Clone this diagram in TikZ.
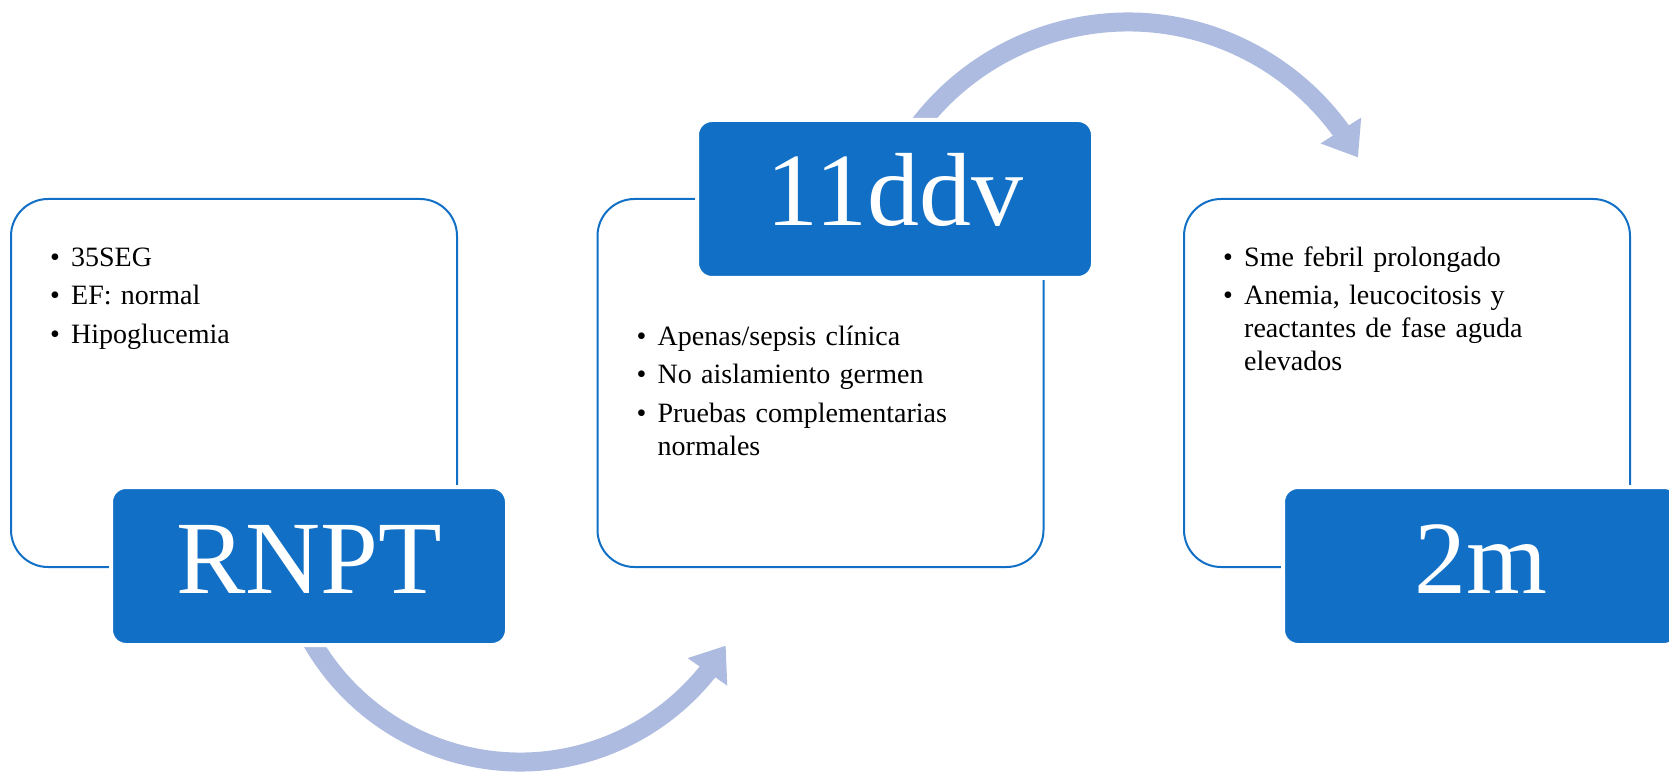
\documentclass[tikz,border=0pt]{standalone}
\usepackage{fontspec}
\setmainfont{Liberation Serif}
\usetikzlibrary{arrows.meta,bending}
\definecolor{boxblue}{RGB}{17,112,198}
\definecolor{arcblue}{RGB}{172,187,223}
\newcommand\pitem[1]{\par\noindent\makebox[21pt][l]{\textbullet}%
    \parbox[t]{370pt}{\raggedright\strut#1\strut}\par\vspace{5.5pt}}

\begin{document}
\begin{tikzpicture}[x=1pt,y=1pt,
    framebox/.style={draw=boxblue,line width=2pt,rounded corners=37pt,minimum width=446pt,minimum height=368pt,inner sep=0pt},
    tagbox/.style={fill=boxblue,draw=white,line width=4pt,rounded corners=15pt,minimum width=396pt,minimum height=158pt,inner sep=0pt,
        text=white,font=\fontsize{104}{110}\selectfont,text height=70pt,text depth=16pt},
    listtext/.style={anchor=north west,inner sep=0pt,text width=400pt,font=\fontsize{28}{33}\selectfont},
    arcarrow/.style={draw=arcblue,line width=19pt,-{Triangle[width=46pt,length=32pt,fill=arcblue]}}]
    \useasboundingbox (0,0) rectangle (1669,772);
    \coordinate (lowc) at (520,250);
    \coordinate (highc) at (1128,487);
    \draw[arcarrow] ([shift={(205:240)}]lowc) arc[start angle=205,end angle=329,radius=240];
    \draw[arcarrow] ([shift={(150:263)}]highc) arc[start angle=150,end angle=29,radius=263];
    \node[framebox] (frame1) at (234,389) {};
    \node[framebox] (frame2) at (820.5,389) {};
    \node[framebox] (frame3) at (1407,389) {};
    \node[tagbox] (tag1) at (309,206) {RNPT};
    \node[tagbox] (tag2) at (895,573) {11ddv};
    \node[tagbox] (tag3) at (1481,206) {2m};
    \node[listtext] (list1) at ([shift={(40,-35)}]frame1.north west)
        {\pitem{35SEG}\pitem{EF: normal}\pitem{Hipoglucemia}};
    \node[listtext] (list2) at ([shift={(40,-114)}]frame2.north west)
        {\pitem{Apenas/sepsis clínica}\pitem{No aislamiento germen}\pitem{Pruebas complementarias\\normales}};
    \node[listtext] (list3) at ([shift={(40,-35)}]frame3.north west)
        {\pitem{Sme febril prolongado}\pitem{Anemia, leucocitosis y\\reactantes de fase aguda\\elevados}};
\end{tikzpicture}
\end{document}
